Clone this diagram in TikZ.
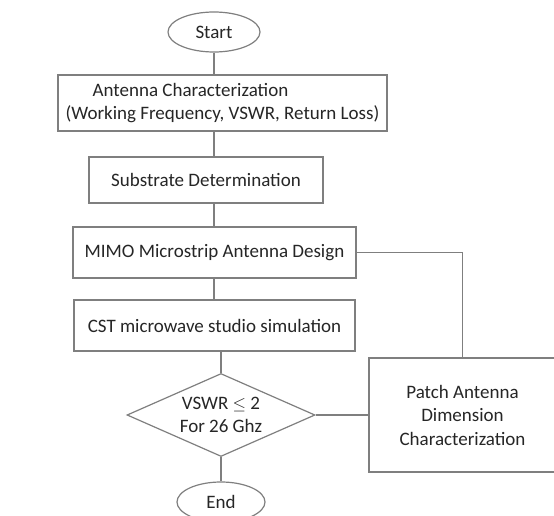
\documentclass[tikz,border=0pt]{standalone}
\usepackage{fontspec}
\setmainfont{Carlito}
\usepackage{tikz}
\usetikzlibrary{shapes.geometric}
\definecolor{linegray}{HTML}{7F7F7F}
\definecolor{inkgray}{HTML}{262626}
\tikzset{
  procbox/.style={draw=linegray, line width=1.2pt, fill=white, align=center, inner sep=0pt, text=inkgray, font=\fontsize{19}{23.5}\selectfont},
  termnode/.style={ellipse, draw=linegray, line width=1.2pt, fill=white, inner sep=0pt, minimum height=40pt, text=inkgray, font=\fontsize{19}{23.5}\selectfont},
  decisionnode/.style={diamond, aspect=2.27, draw=linegray, line width=1.2pt, fill=white, align=center, inner sep=0pt, minimum width=188pt, minimum height=83pt, text=inkgray, font=\fontsize{19}{23.5}\selectfont},
  flowline/.style={draw=linegray, line width=1.2pt}
}

\begin{document}
\begin{tikzpicture}[x=1pt, y=-1pt]
  \useasboundingbox (0,0) rectangle (554,516);
  \node[termnode, minimum width=92pt] (start) at (214,32) {Start};
  \node[procbox, align=left, minimum width=329pt, minimum height=56pt] (antchar) at (222.5,103) {\hspace*{27pt}Antenna Characterization\\(Working Frequency, VSWR, Return Loss)};
  \node[procbox, minimum width=234pt, minimum height=46pt] (substrate) at (206,180) {Substrate Determination};
  \node[procbox, minimum width=283pt, minimum height=51pt] (design) at (214.5,252.5) {MIMO Microstrip Antenna Design};
  \node[procbox, minimum width=281pt, minimum height=51pt] (sim) at (214.5,325.5) {CST microwave studio simulation};
  \node[decisionnode] (vswr) at (221,415) {VSWR $\leq$ 2\\For 26 Ghz};
  \node[termnode, minimum width=88pt] (finish) at (221,502) {End};
  \node[procbox, minimum width=187pt, minimum height=114pt] (patch) at (462.5,415) {Patch Antenna\\Dimension\\Characterization};
  % main flow
  \draw[flowline] (start) -- (start |- antchar.north);
  \draw[flowline] (start |- antchar.south) -- (start |- substrate.north);
  \draw[flowline] (start |- substrate.south) -- (start |- design.north);
  \draw[flowline] (start |- design.south) -- (start |- sim.north);
  \draw[flowline] (vswr.north) -- (vswr.north |- sim.south);
  \draw[flowline] (vswr) -- (finish);
  % feedback loop
  \draw[flowline] (design.east) -| (patch.north);
  \draw[flowline] (vswr.east) -- (patch.west);
\end{tikzpicture}
\end{document}
